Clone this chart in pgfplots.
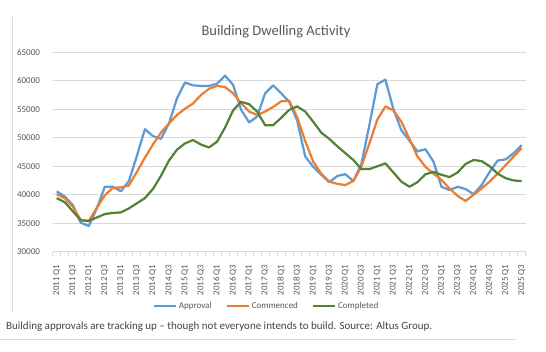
\documentclass[border=0pt]{standalone}
\usepackage{pgfplots}
\pgfplotsset{compat=1.18}
\usepackage{pgfplotstable}
\usepackage{fontspec}
\setmainfont{Carlito}
\definecolor{cA}{HTML}{5B9BD5}
\definecolor{cC}{HTML}{ED7D31}
\definecolor{cG}{HTML}{548235}
\definecolor{gridc}{HTML}{D9D9D9}
\definecolor{lbl}{HTML}{595959}
\definecolor{capc}{HTML}{444444}
\pgfplotstableread{
i a c g
0 40600 40100 39400
1 39700 39400 38700
2 38200 37900 37100
3 35100 35600 35500
4 34500 35400 35400
5 37600 37700 36000
6 41400 39900 36600
7 41400 41200 36800
8 40600 41300 36900
9 42400 41600 37600
10 46800 44000 38500
11 51500 46500 39400
12 50300 48800 41000
13 49800 50900 43300
14 52500 52500 46000
15 56900 54000 47900
16 59700 55100 49000
17 59200 56000 49600
18 59100 57500 48800
19 59100 58600 48300
20 59500 59100 49300
21 60900 58900 51800
22 59300 57800 54800
23 54900 56100 56300
24 52700 54600 55900
25 53700 54000 54600
26 57800 54600 52200
27 59200 55400 52200
28 57800 56400 53500
29 56300 56500 54900
30 53000 53600 55500
31 46700 49400 54600
32 44900 45800 52800
33 43500 43700 50900
34 42200 42300 49800
35 43300 41900 48500
36 43600 41700 47300
37 42400 42400 46100
38 45400 44900 44500
39 52200 49000 44500
40 59400 53200 45000
41 60200 55500 45500
42 55000 54800 43900
43 51300 52800 42300
44 49500 49800 41400
45 47600 46700 42200
46 48000 44900 43600
47 45800 43700 44000
48 41400 42600 43500
49 40800 41100 43100
50 41400 39800 43900
51 41000 38900 45400
52 40100 40000 46100
53 41700 41100 45900
54 44000 42300 45000
55 46000 43700 43700
56 46200 45200 42900
57 47300 46700 42500
58 48700 48200 42400
}\data
\begin{document}
\begin{tikzpicture}
\path[use as bounding box] (0,0) rectangle (546pt,351pt);
\fill[white] (0,0) rectangle (546pt,351pt);
\draw[gridc, line width=0.8pt] (12pt,334pt) -- (12pt,39pt);
\draw[gridc, line width=0.8pt] (0pt,12pt) -- (515pt,12pt);
\begin{axis}[
  at={(52.7pt,99.3pt)}, anchor=south west,
  scale only axis, width=473pt, height=199.4pt,
  xmin=-0.5, xmax=58.5, ymin=30000, ymax=65000,
  axis x line*=bottom, axis y line*=left,
  y axis line style={draw=none},
  x axis line style={draw=gridc, line width=0.8pt},
  ytick={30000,35000,...,65000},
  ymajorgrids, grid style={gridc, line width=0.8pt},
  major y tick style={draw=none},
  scaled y ticks=false,
  /pgf/number format/1000 sep={},
  /pgf/number format/assume math mode=true,
  yticklabel style={font=\fontsize{9}{10}\selectfont, text=lbl, xshift=-5pt},
  xtick={0,2,...,58},
  xticklabels={2011 Q1,2011 Q3,2012 Q1,2012 Q3,2013 Q1,2013 Q3,2014 Q1,2014 Q3,2015 Q1,2015 Q3,2016 Q1,2016 Q3,2017 Q1,2017 Q3,2018 Q1,2018 Q3,2019 Q1,2019 Q3,2020 Q1,2020 Q3,2021 Q1,2021 Q3,2022 Q1,2022 Q3,2023 Q1,2023 Q3,2024 Q1,2024 Q3,2025 Q1,2025 Q3},
  xticklabel style={rotate=90, anchor=east, font=\fontsize{9}{10}\selectfont, text=lbl, xshift=-5pt},
  major x tick style={draw=none},
  minor xtick={-0.5,0.5,...,58.5},
  minor x tick style={draw=gridc, line width=0.8pt},
  minor tick length=4pt,
  tick align=outside,
  legend columns=3,
  legend style={at={(0.452,-0.272)}, anchor=center, draw=none, fill=none,
    font=\fontsize{9}{10}\selectfont, text=lbl,
    /tikz/every even column/.append style={column sep=12pt}},
  legend image code/.code={\draw[#1] (0pt,0pt) -- (22pt,0pt);},
  every axis plot/.append style={line width=2.2pt, no markers, line join=round},
]
\addplot[cA] table[x=i, y=a] {\data};
\addlegendentry{Approval}
\addplot[cC] table[x=i, y=c] {\data};
\addlegendentry{Commenced}
\addplot[cG] table[x=i, y=g] {\data};
\addlegendentry{Completed}
\end{axis}
\node[text=lbl, font=\fontsize{14.5}{16}\selectfont] at (276pt,319pt) {Building Dwelling Activity};
\node[anchor=west, text=capc, font=\fontsize{11}{13}\selectfont, inner sep=0pt] at (6pt,24pt) {Building approvals are tracking up – though not everyone intends to build. Source: Altus Group.};
\end{tikzpicture}
\end{document}
